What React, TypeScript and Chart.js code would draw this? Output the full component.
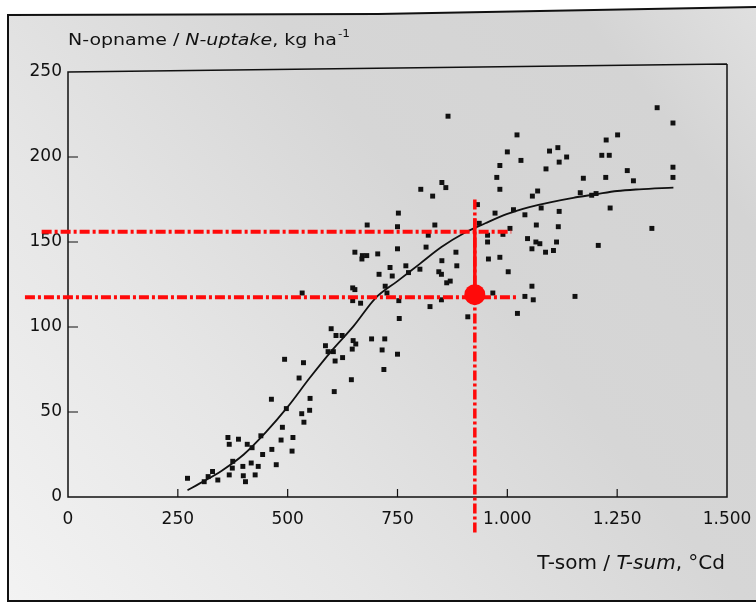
import React, { useEffect, useRef } from 'react';
import { Chart, registerables } from 'chart.js';

Chart.register(...registerables);

// Axis ticks
const xTickValues = [0, 250, 500, 750, 1000, 1250, 1500];
const xTickLabels = ['0', '250', '500', '750', '1.000', '1.250', '1.500'];
const yTickValues = [0, 50, 100, 150, 200, 250];
const yTickLabels = ['0', '50', '100', '150', '200', '250'];

// Observations: T-sum (°Cd) and N-uptake (kg/ha)
const obsTsum = [
  272, 310, 319, 329, 341, 364, 367, 367, 375, 374, 388, 398, 399, 404, 408, 417, 419, 426, 433, 439,
  443, 464, 463, 474, 485, 488, 497, 510, 512, 493, 526, 532, 537, 536, 550, 551, 586, 592, 604, 608,
  606, 625, 645, 647, 649, 655, 610, 624, 599, 691, 721, 715, 750, 719, 533, 648, 653, 648, 666, 653,
  670, 680, 669, 681, 705, 708, 722, 726, 733, 738, 752, 750, 750, 753, 754, 769, 775, 801, 803, 815,
  820, 824, 830, 835, 844, 850, 851, 860, 851, 850, 865, 870, 862, 883, 885, 910, 932, 936, 955, 955,
  957, 967, 972, 976, 983, 983, 983, 990, 1000, 1002, 1006, 1014, 1022, 1023, 1031, 1040, 1040, 1046, 1056, 1057,
  1056, 1059, 1065, 1066, 1069, 1074, 1077, 1087, 1088, 1096, 1105, 1112, 1115, 1116, 1118, 1118, 1135, 1154, 1166, 1173,
  1192, 1202, 1207, 1215, 1232, 1224, 1225, 1234, 1251, 1273, 1287, 1329, 1341, 1377, 1377, 1377,
];
const obsNuptake = [
  11, 9, 12, 15, 10, 35, 31, 13, 21, 17, 34, 18, 12.5, 9, 31, 20, 29, 13, 18, 36,
  25, 28, 57.5, 19, 33.5, 41, 52, 27, 35, 81, 70, 49, 44, 79, 51, 58, 89, 85.5, 85.5, 80,
  62, 82, 69, 87, 92, 90, 95, 95, 99, 93, 93, 86.5, 84, 75, 120, 123, 122, 115.5, 114, 144,
  142, 142, 140, 160, 143, 131, 124, 120, 135, 130, 167, 159, 146, 115.5, 105, 136, 132, 134, 181, 147,
  154, 112, 177, 160, 132.5, 131, 185, 182, 139, 116, 224, 127, 126, 144, 136, 106, 172, 161, 154, 150,
  140, 120, 167, 188, 195, 181, 141, 154.5, 203, 132.5, 158, 169, 213, 108, 198, 118, 166, 152, 146, 177,
  124, 116, 150, 160, 180, 149, 170, 144, 193, 203.5, 145, 150, 205.5, 159, 168, 197, 200, 118, 179, 187.5,
  177.5, 178.5, 148, 201, 201, 188, 210, 170, 213, 192, 186, 158, 229, 220, 194, 188,
];

// Fitted curve
const curveTsum = [272, 300, 350, 400, 450, 500, 550, 600, 650, 700, 750, 800, 850, 900, 950, 1000, 1050, 1100, 1150, 1200, 1250, 1300, 1378];
const curveNuptake = [4, 8, 15.5, 25, 38, 53, 70, 86, 100.5, 117, 127, 137, 147, 155, 161, 166.5, 170.5, 173.5, 176, 178, 180, 181, 182];

// Red reference lines
const upperLineTsum = [-60, 1009];
const upperLineNuptake = [156, 156];
const lowerLineTsum = [-98, 1023];
const lowerLineNuptake = [117.5, 117.5];
const verticalTsum = [926, 926];
const verticalNuptake = [175, -21];
const verticalSolidNuptake = [164, 119];
const markerTsum = [926];
const markerNuptake = [119];

const toPoints = (xs: number[], ys: number[]) => xs.map((x, i) => ({ x, y: ys[i] }));

const FONT = '"DejaVu Sans", "Liberation Sans", Arial, sans-serif';
const INK = '#111111';
const RED = '#ff0a0a';

// draws text segments, horizontally stretched by sx; returns end x
function drawSegments(ctx: any, segs: [string, string][], x0: number, y: number, sx: number) {
  let x = x0;
  segs.forEach(([t, f]) => {
    ctx.font = f;
    ctx.save();
    ctx.translate(x, y);
    ctx.scale(sx, 1);
    ctx.fillText(t, 0, 0);
    ctx.restore();
    x += ctx.measureText(t).width * sx;
  });
  return x;
}

const figurePlugin = {
  id: 'figurePlugin',
  beforeDraw(chart: any) {
    const { ctx, width, height } = chart;
    ctx.save();
    ctx.fillStyle = '#ffffff';
    ctx.fillRect(0, 0, width, height);
    const g = ctx.createLinearGradient(0, height, width, 0);
    g.addColorStop(0, '#f3f3f3');
    g.addColorStop(0.3, '#e6e6e6');
    g.addColorStop(0.6, '#d6d6d6');
    g.addColorStop(0.85, '#d4d4d4');
    g.addColorStop(1, '#e0e0e0');
    ctx.beginPath();
    ctx.moveTo(8, 15);
    ctx.lineTo(378, 14);
    ctx.lineTo(width, 7);
    ctx.lineTo(width, 601);
    ctx.lineTo(8, 601);
    ctx.closePath();
    ctx.fillStyle = g;
    ctx.fill();
    ctx.strokeStyle = INK;
    ctx.lineWidth = 2;
    ctx.beginPath();
    ctx.moveTo(width, 7);
    ctx.lineTo(378, 14);
    ctx.lineTo(8, 15);
    ctx.lineTo(8, 601);
    ctx.lineTo(width, 601);
    ctx.stroke();
    ctx.restore();
  },
  beforeDatasetsDraw(chart: any) {
    const { ctx, chartArea: a, scales } = chart;
    ctx.save();
    ctx.strokeStyle = INK;
    ctx.lineWidth = 1.5;
    ctx.beginPath();
    ctx.moveTo(a.right, a.top - 8);
    ctx.lineTo(a.left, a.top);
    ctx.lineTo(a.left, a.bottom);
    ctx.lineTo(a.right, a.bottom);
    ctx.lineTo(a.right, a.top - 8);
    ctx.stroke();
    ctx.lineWidth = 1.2;
    ctx.beginPath();
    xTickValues.slice(1, -1).forEach((v) => {
      const px = scales.x.getPixelForValue(v);
      ctx.moveTo(px, a.bottom);
      ctx.lineTo(px, a.bottom - 8);
    });
    yTickValues.slice(1, -1).forEach((v) => {
      const py = scales.y.getPixelForValue(v);
      ctx.moveTo(a.left, py);
      ctx.lineTo(a.left + 10, py);
    });
    ctx.stroke();
    ctx.restore();
  },
  afterDraw(chart: any) {
    const { ctx } = chart;
    ctx.save();
    ctx.fillStyle = INK;
    ctx.textBaseline = 'alphabetic';
    // y-axis title
    const yBase = 45;
    const endX = drawSegments(
      ctx,
      [
        ['N-opname / ', `16.5px ${FONT}`],
        ['N-uptake', `italic 16.5px ${FONT}`],
        [', kg ha', `16.5px ${FONT}`],
      ],
      68,
      yBase,
      1.15,
    );
    drawSegments(ctx, [['-1', `11px ${FONT}`]], endX + 1, yBase - 8, 1.1);
    // x-axis title
    const xSegs: [string, string][] = [
      ['T-som / ', `20px ${FONT}`],
      ['T-sum', `italic 20px ${FONT}`],
      [', °Cd', `20px ${FONT}`],
    ];
    let total = 0;
    xSegs.forEach(([t, f]) => {
      ctx.font = f;
      total += ctx.measureText(t).width;
    });
    drawSegments(ctx, xSegs, 725 - total, 569, 1);
    ctx.restore();
  },
};

export default function App() {
  const canvasRef = useRef<HTMLCanvasElement | null>(null);

  useEffect(() => {
    const canvas = canvasRef.current;
    if (!canvas) return;
    const dashDot = [10, 3, 3, 3];
    const chart = new Chart(canvas, {
      type: 'scatter',
      data: {
        datasets: [
          {
            type: 'scatter',
            label: 'marker',
            data: toPoints(markerTsum, markerNuptake),
            pointStyle: 'circle',
            pointRadius: 10.5,
            backgroundColor: RED,
            borderWidth: 0,
            clip: false,
          } as any,
          {
            type: 'line',
            label: 'vertical solid',
            data: toPoints(verticalTsum, verticalSolidNuptake),
            borderColor: RED,
            borderWidth: 3.5,
            pointRadius: 0,
            clip: false,
          } as any,
          {
            type: 'line',
            label: 'vertical',
            data: toPoints(verticalTsum, verticalNuptake),
            borderColor: RED,
            borderWidth: 3.5,
            borderDash: dashDot,
            pointRadius: 0,
            clip: false,
          } as any,
          {
            type: 'line',
            label: 'upper',
            data: toPoints(upperLineTsum, upperLineNuptake),
            borderColor: RED,
            borderWidth: 4,
            borderDash: dashDot,
            pointRadius: 0,
            clip: false,
          } as any,
          {
            type: 'line',
            label: 'lower',
            data: toPoints(lowerLineTsum, lowerLineNuptake),
            borderColor: RED,
            borderWidth: 4,
            borderDash: dashDot,
            pointRadius: 0,
            clip: false,
          } as any,
          {
            type: 'line',
            label: 'curve',
            data: toPoints(curveTsum, curveNuptake),
            borderColor: INK,
            borderWidth: 1.8,
            pointRadius: 0,
            cubicInterpolationMode: 'monotone',
            fill: false,
          } as any,
          {
            type: 'scatter',
            label: 'N-uptake',
            data: toPoints(obsTsum, obsNuptake),
            pointStyle: 'rect',
            pointRadius: 3.5,
            backgroundColor: INK,
            borderWidth: 0,
          } as any,
        ],
      },
      options: {
        responsive: false,
        maintainAspectRatio: false,
        animation: false,
        devicePixelRatio: 1,
        layout: { padding: { left: 8, right: 29, top: 72, bottom: 0 } },
        plugins: {
          legend: { display: false },
          tooltip: { enabled: false },
          title: { display: false },
        },
        scales: {
          x: {
            type: 'linear',
            min: 0,
            max: 1500,
            afterBuildTicks: (scale: any) => {
              scale.ticks = xTickValues.map((v) => ({ value: v }));
            },
            afterFit: (scale: any) => {
              scale.height = 106;
              scale.paddingLeft = 0;
              scale.paddingRight = 0;
            },
            grid: { display: false, drawTicks: false },
            border: { display: false },
            ticks: {
              padding: 12,
              color: INK,
              maxRotation: 0,
              autoSkip: false,
              font: { family: FONT, size: 17 },
              callback: (v: any) => xTickLabels[xTickValues.indexOf(Number(v))],
            },
          },
          y: {
            type: 'linear',
            min: 0,
            max: 250,
            afterBuildTicks: (scale: any) => {
              scale.ticks = yTickValues.map((v) => ({ value: v }));
            },
            afterFit: (scale: any) => {
              scale.width = 60;
              scale.paddingTop = 0;
              scale.paddingBottom = 0;
            },
            grid: { display: false, drawTicks: false },
            border: { display: false },
            ticks: {
              padding: 6,
              color: INK,
              autoSkip: false,
              font: { family: FONT, size: 17 },
              callback: (v: any) => yTickLabels[yTickValues.indexOf(Number(v))],
            },
          },
        },
      } as any,
      plugins: [figurePlugin],
    });
    return () => chart.destroy();
  }, []);

  return (
    <div style={{ position: 'absolute', left: 0, top: 0, width: 756, height: 603 }}>
      <canvas ref={canvasRef} width={756} height={603} style={{ display: 'block', width: 756, height: 603 }} />
    </div>
  );
}
